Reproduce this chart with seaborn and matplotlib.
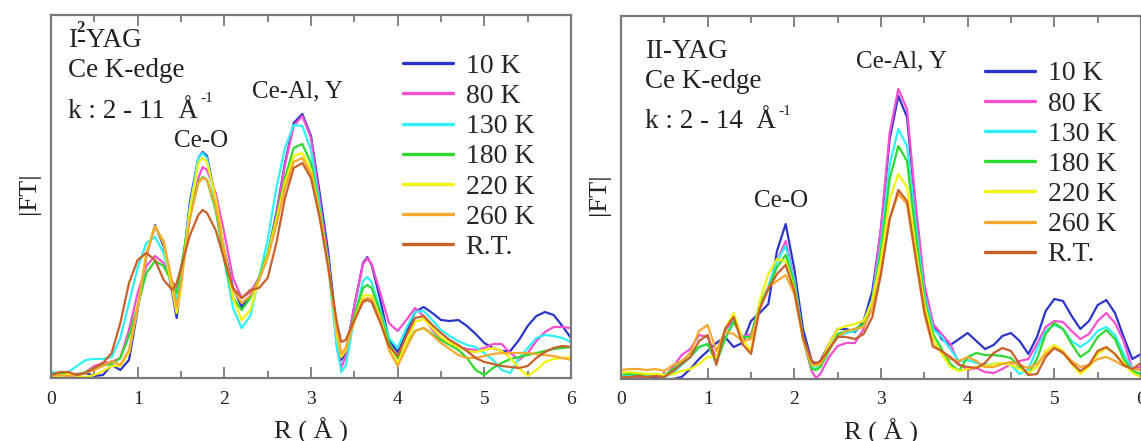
import matplotlib
matplotlib.use("Agg")
import matplotlib.pyplot as plt
from matplotlib.ticker import MultipleLocator
import seaborn as sns
import pandas as pd
import numpy as np

# temperatures (legend order) and colours
labels = ["10 K", "80 K", "130 K", "180 K", "220 K", "260 K", "R.T."]
colors = ["#2b35c8", "#f74fd0", "#2ef0f5", "#2fd92f", "#f2f20a", "#f8a830", "#c8602a"]

# R grids (Angstrom): 0.1 steps plus a few extra points at sharp features
r_left = np.sort(np.r_[np.arange(0, 6.01, 0.1), [1.45, 1.75, 3.35, 3.65]]).round(2)
r_right = np.sort(np.r_[np.arange(0, 6.01, 0.1), [2.25]]).round(2)

# |FT| values (arbitrary units), I^2-YAG, k: 2-11
left_10K = [4, 3, 2, 4, 5, 2, 3, 13, 8, 18, 68, 122, 153, 132, 85, 60, 95, 175, 220, 226,
            222, 178, 128, 90, 71, 82, 100, 123, 165, 215, 255, 264, 242, 185, 125, 45, 18,
            25, 72, 115, 121, 113, 78, 38, 26, 45, 66, 71, 65, 58, 57, 58, 52, 44, 35, 30, 27,
            27, 38, 52, 62, 66, 63, 52, 40]
left_80K = [3, 4, 3, 2, 6, 12, 15, 16, 20, 48, 85, 112, 122, 115, 96, 91, 108, 160, 200, 211,
            208, 185, 145, 100, 80, 86, 100, 122, 162, 213, 252, 262, 240, 178, 118, 30, 10,
            22, 72, 114, 120, 114, 85, 55, 47, 58, 70, 62, 48, 40, 34, 31, 29, 28, 30, 34, 34,
            25, 18, 25, 37, 46, 51, 51, 50]
left_130K = [6, 5, 6, 12, 18, 19, 19, 21, 40, 75, 110, 135, 141, 125, 92, 78, 100, 170, 220, 225,
             220, 172, 118, 70, 50, 62, 100, 138, 190, 230, 253, 252, 228, 172, 110, 30, 6,
             12, 60, 97, 101, 96, 68, 40, 30, 50, 66, 67, 58, 48, 42, 37, 33, 31, 25, 18, 8,
             5, 20, 30, 40, 43, 42, 40, 36]
left_180K = [2, 4, 5, 3, 6, 10, 13, 14, 20, 42, 72, 105, 117, 112, 95, 85, 110, 162, 196, 201,
             198, 168, 118, 80, 68, 80, 100, 125, 160, 200, 230, 234, 215, 168, 115, 45, 22,
             28, 62, 90, 93, 90, 65, 35, 20, 33, 47, 50, 44, 38, 33, 28, 20, 8, 3, 10, 15,
             19, 21, 23, 25, 27, 29, 30, 31]
left_220K = [1, 2, 4, 2, 1, 3, 7, 12, 12, 25, 70, 125, 152, 135, 88, 65, 90, 168, 215, 220,
             216, 180, 128, 80, 58, 68, 98, 122, 158, 195, 222, 225, 208, 165, 112, 42, 21,
             28, 58, 82, 83, 82, 60, 30, 15, 35, 56, 59, 50, 41, 35, 31, 27, 26, 28, 30, 27,
             20, 10, 2, 8, 16, 19, 20, 21]
left_260K = [2, 3, 2, 3, 5, 8, 12, 17, 13, 28, 72, 123, 151, 137, 95, 71, 95, 158, 195, 200,
             198, 172, 125, 88, 75, 82, 98, 120, 153, 190, 216, 220, 204, 162, 110, 48, 24,
             30, 56, 78, 80, 79, 58, 28, 12, 30, 47, 50, 43, 35, 29, 23, 20, 20, 22, 24, 25,
             25, 25, 25, 24, 23, 22, 20, 18]
left_RT = [3, 6, 6, 3, 5, 10, 15, 25, 55, 95, 118, 125, 118, 98, 88, 95, 110, 142, 163, 168,
           165, 148, 118, 90, 80, 88, 90, 100, 135, 180, 210, 215, 200, 160, 110, 55, 36,
           38, 58, 76, 78, 76, 55, 32, 22, 42, 60, 62, 53, 45, 38, 33, 27, 20, 16, 14, 12,
           11, 10, 12, 20, 26, 30, 32, 31]

# II-YAG, k: 2-14
right_10K = [0, 0, 1, 1, 2, 0, 0, 2, 10, 20, 28, 36, 42, 32, 36, 58, 66, 75, 128, 155, 110, 50, 18,
             14,
             18, 35, 50, 50, 47, 58, 88, 150, 240, 283, 262, 170, 92, 55, 40, 34, 40, 46, 38, 30,
             34, 43, 46, 38, 25, 42, 68, 80, 78, 63, 50, 58, 74, 79, 66, 42, 20, 25]
right_80K = [3, 3, 2, 3, 3, 2, 12, 24, 30, 44, 42, 20, 48, 60, 42, 45, 72, 92, 118, 138, 100, 40, 8,
             1,
             5, 22, 33, 36, 36, 50, 80, 152, 246, 290, 270, 175, 95, 55, 45, 35, 15, 9, 11, 7,
             6, 10, 15, 18, 20, 35, 52, 58, 57, 48, 40, 45, 58, 66, 56, 38, 10, 12]
right_130K = [4, 4, 3, 4, 4, 2, 6, 14, 22, 32, 35, 18, 40, 58, 42, 42, 75, 92, 118, 133, 98, 42, 12,
              10,
              14, 30, 42, 46, 48, 55, 80, 135, 214, 250, 233, 155, 85, 50, 42, 30, 18, 19, 16, 14,
              15, 16, 14, 5, 10, 30, 48, 54, 50, 38, 32, 38, 48, 52, 44, 25, 10, 2]
right_180K = [5, 5, 4, 5, 4, 3, 10, 16, 22, 32, 35, 16, 40, 57, 42, 42, 75, 90, 112, 124, 95, 40, 10,
              9,
              12, 28, 45, 48, 50, 55, 78, 128, 200, 233, 218, 145, 80, 45, 30, 15, 8, 22, 26, 24,
              24, 23, 21, 12, 5, 20, 45, 56, 50, 35, 22, 28, 42, 49, 40, 20, 8, 5]
right_220K = [6, 7, 6, 5, 5, 4, 5, 8, 10, 15, 22, 22, 50, 66, 40, 28, 78, 105, 120, 118, 90, 40, 14,
              13,
              16, 35, 50, 53, 55, 58, 78, 120, 180, 205, 192, 130, 75, 40, 25, 12, 8, 10, 12, 13,
              15, 16, 14, 10, 6, 12, 28, 34, 28, 15, 5, 12, 25, 31, 25, 16, 6, 2]
right_260K = [9, 10, 10, 9, 10, 8, 14, 18, 26, 48, 54, 28, 48, 45, 38, 40, 70, 92, 98, 104, 85, 40, 14,
              14,
              15, 30, 42, 48, 50, 52, 70, 108, 160, 185, 175, 120, 65, 32, 28, 20, 18, 22, 18, 12,
              12, 15, 17, 14, 11, 15, 25, 31, 27, 18, 12, 14, 20, 22, 18, 13, 10, 9]
right_RT = [2, 2, 3, 2, 3, 2, 8, 15, 22, 38, 44, 14, 50, 62, 35, 25, 70, 90, 105, 114, 88, 42, 18,
            16,
            18, 30, 42, 42, 40, 45, 62, 105, 160, 189, 178, 122, 68, 33, 28, 22, 14, 12, 11, 16,
            26, 31, 28, 15, 4, 5, 22, 31, 26, 16, 8, 14, 28, 32, 25, 14, 10, 16]

left_series = [left_10K, left_80K, left_130K, left_180K, left_220K, left_260K, left_RT]
right_series = [right_10K, right_80K, right_130K, right_180K, right_220K, right_260K, right_RT]


def long_frame(r, series):
    parts = []
    for lab, vals in zip(labels, series):
        assert len(vals) == len(r), (lab, len(vals), len(r))
        parts.append(pd.DataFrame({"R": r, "FT": vals, "T": lab}))
    return pd.concat(parts, ignore_index=True)


df_left = long_frame(r_left, left_series)
df_right = long_frame(r_right, right_series)

sns.set_theme(style="white")
plt.rcParams["font.family"] = ["Liberation Serif", "DejaVu Serif"]

fig = plt.figure(figsize=(11.41, 4.41), dpi=100)
ax1 = fig.add_axes([51 / 1141, 63 / 441, 520 / 1141, 363 / 441])
ax2 = fig.add_axes([621 / 1141, 62 / 441, 520 / 1141, 363 / 441])

palette = dict(zip(labels, colors))
spine_c = "#7a7a7a"
txt_c = "#222222"

for ax, df in [(ax1, df_left), (ax2, df_right)]:
    sns.lineplot(data=df, x="R", y="FT", hue="T", hue_order=labels, palette=palette,
                 estimator=None, sort=False, linewidth=1.6, ax=ax, legend=True)
    ax.set_xlim(0, 6)
    ax.set_ylim(0, 363)
    ax.set_yticks([])
    ax.xaxis.set_major_locator(MultipleLocator(1))
    ax.xaxis.set_minor_locator(MultipleLocator(0.5))
    ax.tick_params(axis="x", which="both", direction="in", top=True, bottom=True,
                   color=spine_c, width=1.3, labelsize=14, pad=9, labelcolor=txt_c)
    ax.tick_params(axis="x", which="major", length=8)
    ax.tick_params(axis="x", which="minor", length=5)
    for s in ax.spines.values():
        s.set_color(spine_c)
        s.set_linewidth(1.6)
    ax.set_xlabel("R ( Å )", fontsize=19, labelpad=7, color=txt_c)
    ax.set_ylabel("|FT|", fontsize=19, color=txt_c)
    ax.yaxis.set_label_coords(-0.021, 0.51)
    handles, labs = ax.get_legend_handles_labels()
    for h in handles:
        h.set_linewidth(2.4)
    ax.legend(handles, labs, frameon=False, fontsize=20, loc="upper left",
              handlelength=1.8, handletextpad=0.45, labelspacing=0.17, borderpad=0,
              borderaxespad=0,
              bbox_to_anchor=(0.677, 0.894) if ax is ax1 else (0.70, 0.876))

# annotations, left panel
tk = dict(fontsize=19.5, va="baseline", color=txt_c, transform=ax1.transAxes)
ax1.text(0.032, 0.912, "I-YAG", **tk)
ax1.text(0.049, 0.952, "2", fontsize=12, va="baseline", weight="bold", color=txt_c,
         transform=ax1.transAxes)
ax1.text(0.032, 0.830, "Ce K-edge", **tk)
ax1.text(0.032, 0.716, "k : 2 - 11  Å", **tk)
ax1.text(0.288, 0.761, "-1", fontsize=11, va="baseline", color=txt_c, transform=ax1.transAxes)
lk = dict(fontsize=18, va="baseline", ha="center", color=txt_c)
ax1.text(0.288, 0.636, "Ce-O", transform=ax1.transAxes, **lk)
ax1.text(0.475, 0.774, "Ce-Al, Y", transform=ax1.transAxes, **lk)

# annotations, right panel
tk2 = dict(fontsize=19.5, va="baseline", color=txt_c, transform=ax2.transAxes)
ax2.text(0.046, 0.884, "II-YAG", **tk2)
ax2.text(0.046, 0.802, "Ce K-edge", **tk2)
ax2.text(0.046, 0.691, "k : 2 - 14  Å", **tk2)
ax2.text(0.302, 0.727, "-1", fontsize=11, va="baseline", color=txt_c, transform=ax2.transAxes)
ax2.text(0.308, 0.474, "Ce-O", transform=ax2.transAxes, **lk)
ax2.text(0.540, 0.857, "Ce-Al, Y", transform=ax2.transAxes, **lk)

fig.savefig("out.png", dpi=100)
